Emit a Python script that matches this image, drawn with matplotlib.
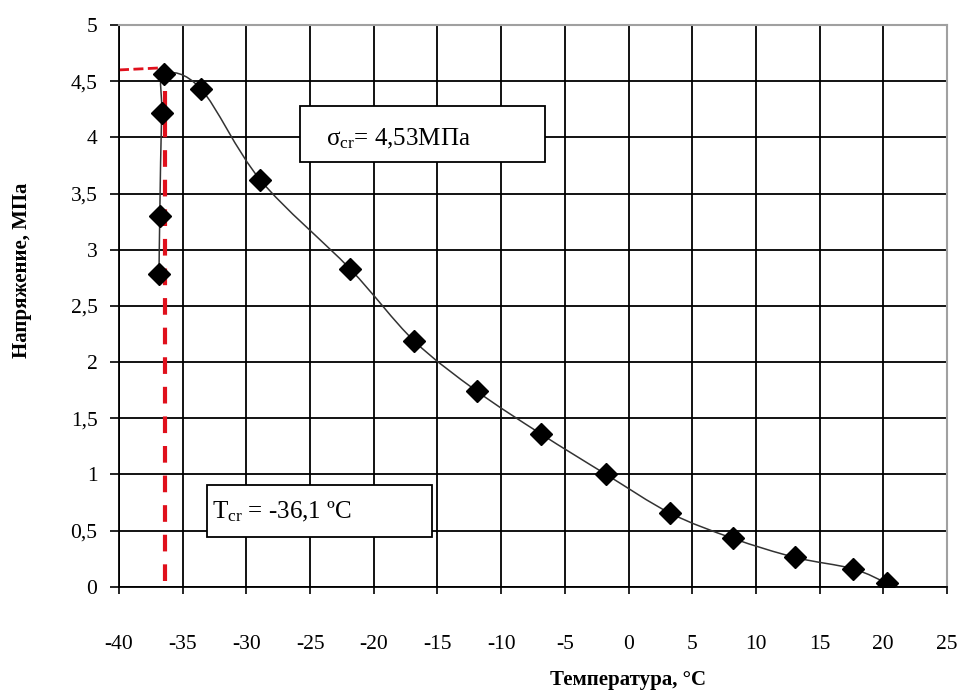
import numpy as np
import matplotlib
matplotlib.use('Agg')
import matplotlib.pyplot as plt
from matplotlib.path import Path
from matplotlib.patches import PathPatch, Rectangle

plt.rcParams['font.family'] = ['Liberation Serif', 'DejaVu Serif']
plt.rcParams['mathtext.fontset'] = 'custom'
plt.rcParams['mathtext.rm'] = 'Liberation Serif'
plt.rcParams['mathtext.it'] = 'Liberation Serif:italic'
plt.rcParams['axes.unicode_minus'] = False

# данные
temp = [-36.86, -36.8, -36.65, -36.47, -33.56, -28.9, -21.87, -16.85,
        -11.9, -6.88, -1.77, 3.25, 8.2, 13.1, 17.6, 20.3]
stress = [2.78, 3.30, 4.22, 4.56, 4.43, 3.62, 2.83, 2.19,
          1.74, 1.36, 1.0, 0.656, 0.43, 0.26, 0.16, 0.03]

t_cr_line = -36.4
s_cr_line = 4.61

x_ticks = [-40, -35, -30, -25, -20, -15, -10, -5, 0, 5, 10, 15, 20, 25]
y_ticks = [0, 0.5, 1, 1.5, 2, 2.5, 3, 3.5, 4, 4.5, 5]
y_labels = ['0', '0,5', '1', '1,5', '2', '2,5', '3', '3,5', '4', '4,5', '5']

W, H = 959, 693
fig = plt.figure(figsize=(W / 100, H / 100), dpi=100)
ax = fig.add_axes([119 / W, 1 - 586.7 / H, (947 - 119) / W, (586.7 - 25) / H])
ax.set_xlim(-40, 25)
ax.set_ylim(0, 5)

ax.set_xticks(x_ticks)
ax.set_yticks(y_ticks)
ax.set_yticklabels(y_labels)
ax.tick_params(axis='x', direction='out', length=5, width=1.2, pad=30, labelsize=15.5)
ax.tick_params(axis='y', direction='out', length=6.5, width=1.2, pad=9, labelsize=15.5)
ax.grid(True, color='black', linewidth=1.3)
ax.set_axisbelow(True)
for s in ['left', 'bottom']:
    ax.spines[s].set_color('black')
    ax.spines[s].set_linewidth(1.3)
for s in ['top', 'right']:
    ax.spines[s].set_color('#a0a0a0')
    ax.spines[s].set_linewidth(1.5)

# сглаженная линия (Безье, как в Excel)
x = np.array(temp)
y = np.array(stress)
ky = 112.3 / 12.74  # масштаб осей
pts = np.column_stack([x, y * ky])
verts = [tuple(pts[0])]
codes = [Path.MOVETO]
n = len(pts)
for i in range(n - 1):
    p0 = pts[i - 1] if i > 0 else pts[i]
    p1 = pts[i]
    p2 = pts[i + 1]
    p3 = pts[i + 2] if i + 2 < n else pts[i + 1]
    c1 = p1 + (p2 - p0) / 6
    c2 = p2 - (p3 - p1) / 6
    verts += [tuple(c1), tuple(c2), tuple(p2)]
    codes += [Path.CURVE4] * 3
verts = [(vx, vy / ky) for vx, vy in verts]
ax.add_patch(PathPatch(Path(verts, codes), facecolor='none', edgecolor='#333333',
                       linewidth=1.1, zorder=3))

ax.plot(temp, stress, linestyle='none', marker='D', markersize=11,
        color='black', zorder=4)

# красные пунктирные линии
ax.plot([t_cr_line, t_cr_line], [0.05, s_cr_line + 0.01], color='#e0101c',
        linestyle=(0, (4, 3.1)), linewidth=3, zorder=2)
ax.plot([-40, t_cr_line], [s_cr_line - 0.01, s_cr_line + 0.01], color='#e0101c',
        linestyle=(0, (3.6, 1.6)), linewidth=2, zorder=2, clip_on=False)

# подписи в рамках
def px_box(x0, y0, x1, y1):
    fig.add_artist(Rectangle((x0 / W, 1 - y1 / H), (x1 - x0) / W, (y1 - y0) / H,
                             transform=fig.transFigure, facecolor='white',
                             edgecolor='black', linewidth=1.3, zorder=5))

px_box(300, 106, 545, 162)
fig.text(326 / W, 1 - 145 / H, r'σ$_{\mathrm{cr}}$= 4,53МПа', fontsize=18,
         ha='left', va='baseline', zorder=6)
px_box(207, 485, 432, 537)
fig.text(212 / W, 1 - 518 / H, r'T$_{\mathrm{cr}}$ = -36,1 ºC', fontsize=18,
         ha='left', va='baseline', zorder=6)

fig.text(628 / W, 1 - 680 / H, 'Температура, °С', fontsize=15, fontweight='bold',
         ha='center', va='center')
fig.text(22 / W, 1 - 270 / H, 'Напряжение, МПа', fontsize=15, fontweight='bold',
         ha='center', va='center', rotation=90)

fig.savefig('out.png', dpi=100)
